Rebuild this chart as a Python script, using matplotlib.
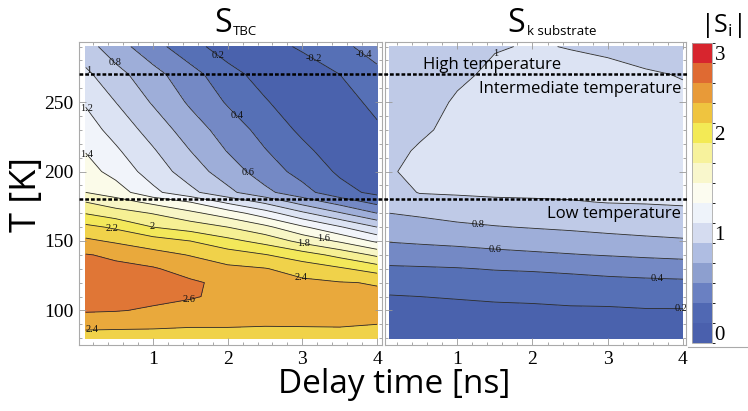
import numpy as np
import matplotlib
matplotlib.use('Agg')
import matplotlib.pyplot as plt
from matplotlib.colors import ListedColormap, BoundaryNorm
from matplotlib.cm import ScalarMappable
from matplotlib.lines import Line2D
from matplotlib.ticker import MultipleLocator
from matplotlib import transforms

plt.rcParams['font.family'] = 'Liberation Serif'
plt.rcParams['contour.negative_linestyle'] = 'solid'
SANS = 'Open Sans'

# grid of the two sensitivity maps (delay time in ns, temperature in K)
delay = [0.1, 0.5, 1.0, 1.5, 2.0, 2.5, 3.0, 3.5, 4.0]
temp = [80, 90, 100, 110, 120, 130, 140, 150, 160, 170, 178, 185, 200, 215, 230, 250, 270, 290]

s_tbc = [
    [2.30, 2.30, 2.32, 2.33, 2.33, 2.34, 2.35, 2.36, 2.36],
    [2.47, 2.46, 2.44, 2.42, 2.42, 2.41, 2.41, 2.41, 2.40],
    [2.62, 2.61, 2.58, 2.52, 2.50, 2.48, 2.46, 2.44, 2.43],
    [2.68, 2.66, 2.64, 2.62, 2.55, 2.50, 2.47, 2.44, 2.43],
    [2.70, 2.68, 2.65, 2.63, 2.55, 2.48, 2.44, 2.41, 2.39],
    [2.66, 2.64, 2.62, 2.52, 2.44, 2.41, 2.32, 2.23, 2.11],
    [2.61, 2.57, 2.47, 2.39, 2.30, 2.21, 2.09, 1.94, 1.76],
    [2.44, 2.37, 2.29, 2.20, 2.06, 1.93, 1.74, 1.57, 1.36],
    [2.25, 2.17, 2.00, 1.91, 1.80, 1.65, 1.43, 1.22, 1.00],
    [1.99, 1.89, 1.79, 1.65, 1.50, 1.29, 1.04, 0.82, 0.60],
    [1.80, 1.69, 1.55, 1.40, 1.16, 0.96, 0.72, 0.52, 0.34],
    [1.60, 1.50, 1.25, 1.05, 0.85, 0.65, 0.47, 0.27, 0.15],
    [1.48, 1.33, 1.11, 0.90, 0.70, 0.50, 0.33, 0.17, 0.01],
    [1.39, 1.23, 1.02, 0.80, 0.59, 0.41, 0.25, 0.09, -0.07],
    [1.29, 1.13, 0.92, 0.70, 0.51, 0.33, 0.16, 0.00, -0.16],
    [1.18, 1.00, 0.78, 0.57, 0.38, 0.22, 0.06, -0.09, -0.27],
    [1.04, 0.87, 0.67, 0.47, 0.28, 0.11, -0.04, -0.20, -0.36],
    [0.88, 0.69, 0.47, 0.28, 0.09, -0.09, -0.24, -0.36, -0.47],
]

s_ksub = [
    [0.03, 0.03, 0.04, 0.04, 0.05, 0.05, 0.06, 0.06, 0.07],
    [0.10, 0.10, 0.11, 0.11, 0.12, 0.12, 0.13, 0.14, 0.15],
    [0.15, 0.16, 0.16, 0.17, 0.17, 0.18, 0.18, 0.19, 0.19],
    [0.19, 0.20, 0.21, 0.22, 0.23, 0.24, 0.25, 0.26, 0.27],
    [0.28, 0.29, 0.30, 0.31, 0.32, 0.33, 0.35, 0.36, 0.37],
    [0.37, 0.38, 0.39, 0.41, 0.42, 0.44, 0.46, 0.48, 0.49],
    [0.50, 0.50, 0.52, 0.55, 0.57, 0.59, 0.61, 0.63, 0.65],
    [0.61, 0.63, 0.65, 0.67, 0.69, 0.71, 0.74, 0.76, 0.78],
    [0.70, 0.72, 0.76, 0.79, 0.81, 0.83, 0.85, 0.87, 0.88],
    [0.80, 0.83, 0.87, 0.89, 0.91, 0.92, 0.94, 0.95, 0.96],
    [0.86, 0.92, 0.95, 0.97, 0.98, 0.99, 1.005, 1.01, 1.02],
    [0.91, 1.01, 1.02, 1.03, 1.03, 1.03, 1.03, 1.03, 1.02],
    [0.985, 1.04, 1.06, 1.07, 1.07, 1.06, 1.05, 1.04, 1.03],
    [0.95, 1.02, 1.06, 1.08, 1.08, 1.07, 1.06, 1.05, 1.04],
    [0.93, 0.97, 1.05, 1.08, 1.08, 1.07, 1.06, 1.05, 1.04],
    [0.91, 0.93, 1.02, 1.06, 1.07, 1.06, 1.05, 1.04, 1.02],
    [0.90, 0.91, 0.97, 1.03, 1.05, 1.04, 1.03, 1.01, 0.995],
    [0.88, 0.89, 0.92, 0.99, 1.01, 0.995, 0.98, 0.96, 0.95],
]

band_edges = [0.0, 0.2, 0.4, 0.6, 0.8, 1.0, 1.2, 1.4, 1.6, 1.8, 2.0, 2.2, 2.4, 2.6, 2.8, 3.0]
line_levels = [-0.4, -0.2, 0.2, 0.4, 0.6, 0.8, 1.0, 1.2, 1.4, 1.6, 1.8, 2.0, 2.2, 2.4, 2.6]

# where the contour labels sit (delay, T)
tbc_label_pos = [(0.49, 278.6), (0.15, 273), (0.11, 245.5), (0.12, 213), (1.87, 283.9),
                 (3.15, 281.5), (3.81, 283.9), (2.23, 245.9), (2.36, 205.1), (0.45, 157.5),
                 (0.98, 159.1), (3.01, 147.8), (3.28, 151.2), (3.0, 126.2), (1.49, 107),
                 (0.18, 85.4)]
ksub_label_pos = [(1.5, 287.5), (1.28, 162), (1.5, 143), (3.66, 123.8), (3.97, 100.8)]

fill_colors = ['#4a62ad', '#5670b6', '#7489c5', '#9eaed9', '#bfcae7', '#dce3f3',
               '#f1f4fa', '#fbfbe9', '#f8f6c6', '#f6f094', '#f3e85a', '#f0d24a',
               '#e9a93c', '#e07636', '#d83a30']
legend_colors = ['#4a60ad', '#5068b3', '#6a80c2', '#8d9fcf', '#afbde2', '#d5dcf0',
                 '#eef3fa', '#fcfcf0', '#f9f7cc', '#f7f29c', '#f3ea55', '#efc43f',
                 '#e89a38', '#df6a32', '#d7252e']

W, H = 748, 411


def box(l, r, t, b):
    return [l / W, 1 - b / H, (r - l) / W, (b - t) / H]


fig = plt.figure(figsize=(W / 100, H / 100), dpi=100)
ax1 = fig.add_axes(box(79, 382, 42, 345))
ax2 = fig.add_axes(box(385, 686, 42, 345))

panels = [(ax1, s_tbc, tbc_label_pos, (0.01, 4.066)),
          (ax2, s_ksub, ksub_label_pos, (0.04, 4.04))]

for ax, s, lab_pos, xl in panels:
    s = np.array(s)
    ax.contourf(delay, temp, np.abs(s), levels=band_edges, colors=fill_colors)
    cs = ax.contour(delay, temp, s, levels=line_levels, colors='#2a2a2a', linewidths=0.6)
    labels = ax.clabel(cs, manual=lab_pos, inline=False, fontsize=7.5,
                       fmt=lambda v: f'{v:g}')
    for txt in labels:
        txt.set_rotation(0)
        txt.set_fontfamily('Liberation Serif')
        txt.set_color('#111111')
    ax.set_xlim(*xl)
    ax.set_ylim(75.1, 293.3)
    ax.set_xticks([1, 2, 3, 4])
    ax.xaxis.set_minor_locator(MultipleLocator(0.2))
    ax.set_yticks([100, 150, 200, 250])
    ax.yaxis.set_minor_locator(MultipleLocator(10))
    ax.tick_params(which='both', direction='in', top=True, right=True,
                   color='#999999', width=0.6, labelsize=14, pad=4)
    ax.tick_params(which='major', length=5)
    ax.tick_params(which='minor', length=2.5)
    for sp in ax.spines.values():
        sp.set_color('#aaaaaa')
        sp.set_linewidth(0.8)

ax2.tick_params(labelleft=False)

# dotted temperature limits across both panels
blend = transforms.blended_transform_factory(fig.transFigure, ax1.transData)
for T_lim in [270, 180]:
    fig.add_artist(Line2D([79 / W, 688 / W], [T_lim, T_lim], transform=blend,
                          color='black', lw=1.8, ls=(0, (1.5, 0.8))))

fig.text(423 / W, 1 - 69.3 / H, 'High temperature', family=SANS, fontsize=12,
         ha='left', va='baseline')
fig.text(681 / W, 1 - 93.3 / H, 'Intermediate temperature', family=SANS, fontsize=12,
         ha='right', va='baseline')
fig.text(681 / W, 1 - 217.7 / H, 'Low temperature', family=SANS, fontsize=12,
         ha='right', va='baseline')

# panel titles
fig.text(232 / W, 1 - 31.7 / H, 'S', family=SANS, fontsize=23, ha='right', va='baseline')
fig.text(233 / W, 1 - 35 / H, 'TBC', family=SANS, fontsize=9.5, ha='left', va='baseline')
fig.text(525 / W, 1 - 31.7 / H, 'S', family=SANS, fontsize=23, ha='right', va='baseline')
fig.text(527 / W, 1 - 35 / H, 'k substrate', family=SANS, fontsize=9.5, ha='left', va='baseline')

fig.text(394 / W, 1 - 384 / H, 'Delay time [ns]', family=SANS, fontsize=24,
         ha='center', va='center')
fig.text(27 / W, 1 - 194 / H, 'T [K]', family=SANS, fontsize=26, rotation=90,
         ha='center', va='center')

# legend bar
cax = fig.add_axes(box(692, 711.7, 43.3, 343.3))
sm = ScalarMappable(norm=BoundaryNorm(band_edges, len(legend_colors)),
                    cmap=ListedColormap(legend_colors))
cb = fig.colorbar(sm, cax=cax, ticks=[0.1, 1.1, 2.1, 2.9])
cb.set_ticklabels(['0', '1', '2', '3'])
cb.ax.tick_params(length=0, labelsize=15, pad=2)
cb.outline.set_edgecolor('#aaaaaa')
cb.outline.set_linewidth(0.6)
fig.add_artist(Line2D([688 / W, 1.0], [1 - 346.5 / H] * 2, color='#aaaaaa', lw=0.8))

# |S_i| heading of the legend
fig.text(721 / W, 1 - 32 / H, r'$\mathregular{|S_i|}$', family=SANS, fontsize=18,
         ha='center', va='baseline')

fig.savefig('out.png', dpi=100)
